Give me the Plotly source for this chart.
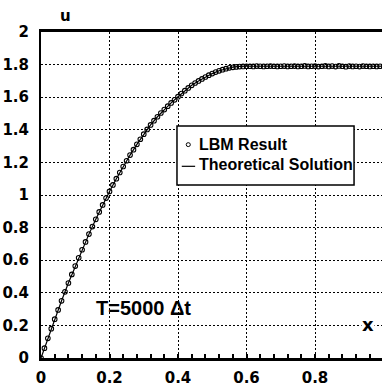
import plotly.graph_objects as go

# ---- data ----
x_step = 0.01
u_lbm = [
    0.000, 0.060, 0.121, 0.180, 0.238, 0.295, 0.351, 0.406, 0.460, 0.513,
    0.564, 0.615, 0.664, 0.712, 0.760, 0.806, 0.851, 0.896, 0.939, 0.981,
    1.022, 1.062, 1.100, 1.138, 1.175, 1.210, 1.245, 1.278, 1.311, 1.342,
    1.373, 1.402, 1.430, 1.456, 1.480, 1.503, 1.524, 1.545, 1.565, 1.584,
    1.603, 1.622, 1.640, 1.657, 1.673, 1.687, 1.700, 1.712, 1.724, 1.735,
    1.745, 1.754, 1.762, 1.769, 1.775, 1.780, 1.783, 1.786, 1.788, 1.789,
    1.790, 1.790, 1.789, 1.791, 1.790, 1.789, 1.790, 1.791, 1.790, 1.789,
    1.790, 1.791, 1.789, 1.790, 1.791, 1.789, 1.790, 1.792, 1.789, 1.790,
    1.791, 1.788, 1.790, 1.792, 1.789, 1.791, 1.788, 1.792, 1.790, 1.787,
    1.791, 1.789, 1.790, 1.788, 1.791, 1.790, 1.789, 1.790, 1.789, 1.790,
    1.790,
]
x_lbm = [round(i * x_step, 2) for i in range(len(u_lbm))]

x_theory = [0.00, 0.02, 0.04, 0.06, 0.08, 0.10, 0.12, 0.14, 0.16, 0.18,
            0.20, 0.22, 0.24, 0.26, 0.28, 0.30, 0.32, 0.34, 0.36, 0.38,
            0.40, 0.42, 0.44, 0.46, 0.48, 0.50, 0.52, 0.54, 0.56, 0.58,
            0.60, 1.00]
u_theory = [0.000, 0.121, 0.238, 0.351, 0.460, 0.564, 0.664, 0.760, 0.851, 0.939,
            1.022, 1.100, 1.175, 1.245, 1.311, 1.373, 1.430, 1.480, 1.524, 1.565,
            1.603, 1.640, 1.673, 1.700, 1.724, 1.745, 1.762, 1.775, 1.784, 1.789,
            1.790, 1.790]

x_ticks = [0, 0.2, 0.4, 0.6, 0.8, 1]
x_ticklabels = ["0", "0.2", "0.4", "0.6", "0.8", "1"]
y_ticks = [0, 0.2, 0.4, 0.6, 0.8, 1, 1.2, 1.4, 1.6, 1.8, 2]
y_ticklabels = ["0", "0.2", "0.4", "0.6", "0.8", "1", "1.2", "1.4", "1.6", "1.8", "2"]

series_names = ["LBM Result", "Theoretical Solution"]
time_label = "T=5000 \u0394t"

# ---- figure ----
fig = go.Figure()
fig.add_trace(go.Scatter(
    x=x_theory, y=u_theory, mode="lines", name=series_names[1],
    line=dict(color="black", width=1.2), showlegend=False,
))
fig.add_trace(go.Scatter(
    x=x_lbm, y=u_lbm, mode="markers", name=series_names[0],
    marker=dict(symbol="circle-open", size=4.6, color="black", line=dict(width=1.1)),
    showlegend=False,
))

tick_font = dict(family="DejaVu Sans", size=15, color="black", weight="bold")
legend_font = dict(family="Liberation Sans", size=16, color="black", weight="bold")

fig.update_layout(
    width=382, height=387,
    margin=dict(l=41, r=0, t=32, b=27),
    paper_bgcolor="white", plot_bgcolor="white",
    xaxis=dict(
        range=[0, 0.9956], tickvals=x_ticks, ticktext=x_ticklabels,
        showline=True, linecolor="black", linewidth=2.5, mirror=True,
        ticks="inside", ticklen=4, tickcolor="black", tickwidth=1.5,
        minor=dict(dtick=0.04, ticks="inside", ticklen=4, tickcolor="black",
                   tickwidth=1.5, showgrid=False),
        showgrid=True, gridcolor="black", gridwidth=1, griddash="2px,2px",
        zeroline=False, tickfont=tick_font, ticklabelstandoff=4,
    ),
    yaxis=dict(
        range=[0, 2], tickvals=y_ticks, ticktext=y_ticklabels,
        showline=True, linecolor="black", linewidth=2, mirror=False,
        ticks="", showgrid=True, gridcolor="black", gridwidth=1,
        griddash="2px,2px", zeroline=False, tickfont=tick_font,
        ticklabelstandoff=7,
    ),
)

# legend box drawn to match the reference placement
fig.add_shape(type="rect", xref="x", yref="y", x0=0.397, x1=0.914, y0=1.061, y1=1.423,
              line=dict(color="black", width=1.5), fillcolor="white", layer="above")
fig.add_shape(type="circle", xref="x", yref="y", x0=0.424, x1=0.436, y0=1.297, y1=1.321,
              line=dict(color="black", width=1), layer="above")
fig.add_shape(type="line", xref="x", yref="y", x0=0.411, x1=0.450, y0=1.176, y1=1.176,
              line=dict(color="black", width=1.2), layer="above")
fig.add_annotation(x=0.455, y=1.311, xref="x", yref="y", text=series_names[0],
                   showarrow=False, xanchor="left", yanchor="middle", font=legend_font)
fig.add_annotation(x=0.455, y=1.186, xref="x", yref="y", text=series_names[1],
                   showarrow=False, xanchor="left", yanchor="middle", font=legend_font)

# texts
fig.add_annotation(x=0.298, y=0.307, xref="x", yref="y", text=time_label,
                   showarrow=False, font=dict(family="Liberation Sans", size=20,
                                              color="black", weight="bold"))
fig.add_annotation(x=0.955, y=0.205, xref="x", yref="y", text="x", showarrow=False,
                   bgcolor="white", borderpad=0,
                   font=dict(family="DejaVu Sans", size=18, color="black", weight="bold"))
fig.add_annotation(x=0.050, y=1.049, xref="paper", yref="paper", text="u",
                   showarrow=False, yanchor="middle",
                   font=dict(family="DejaVu Sans", size=15, color="black", weight="bold"))

fig.write_html("out.html")
